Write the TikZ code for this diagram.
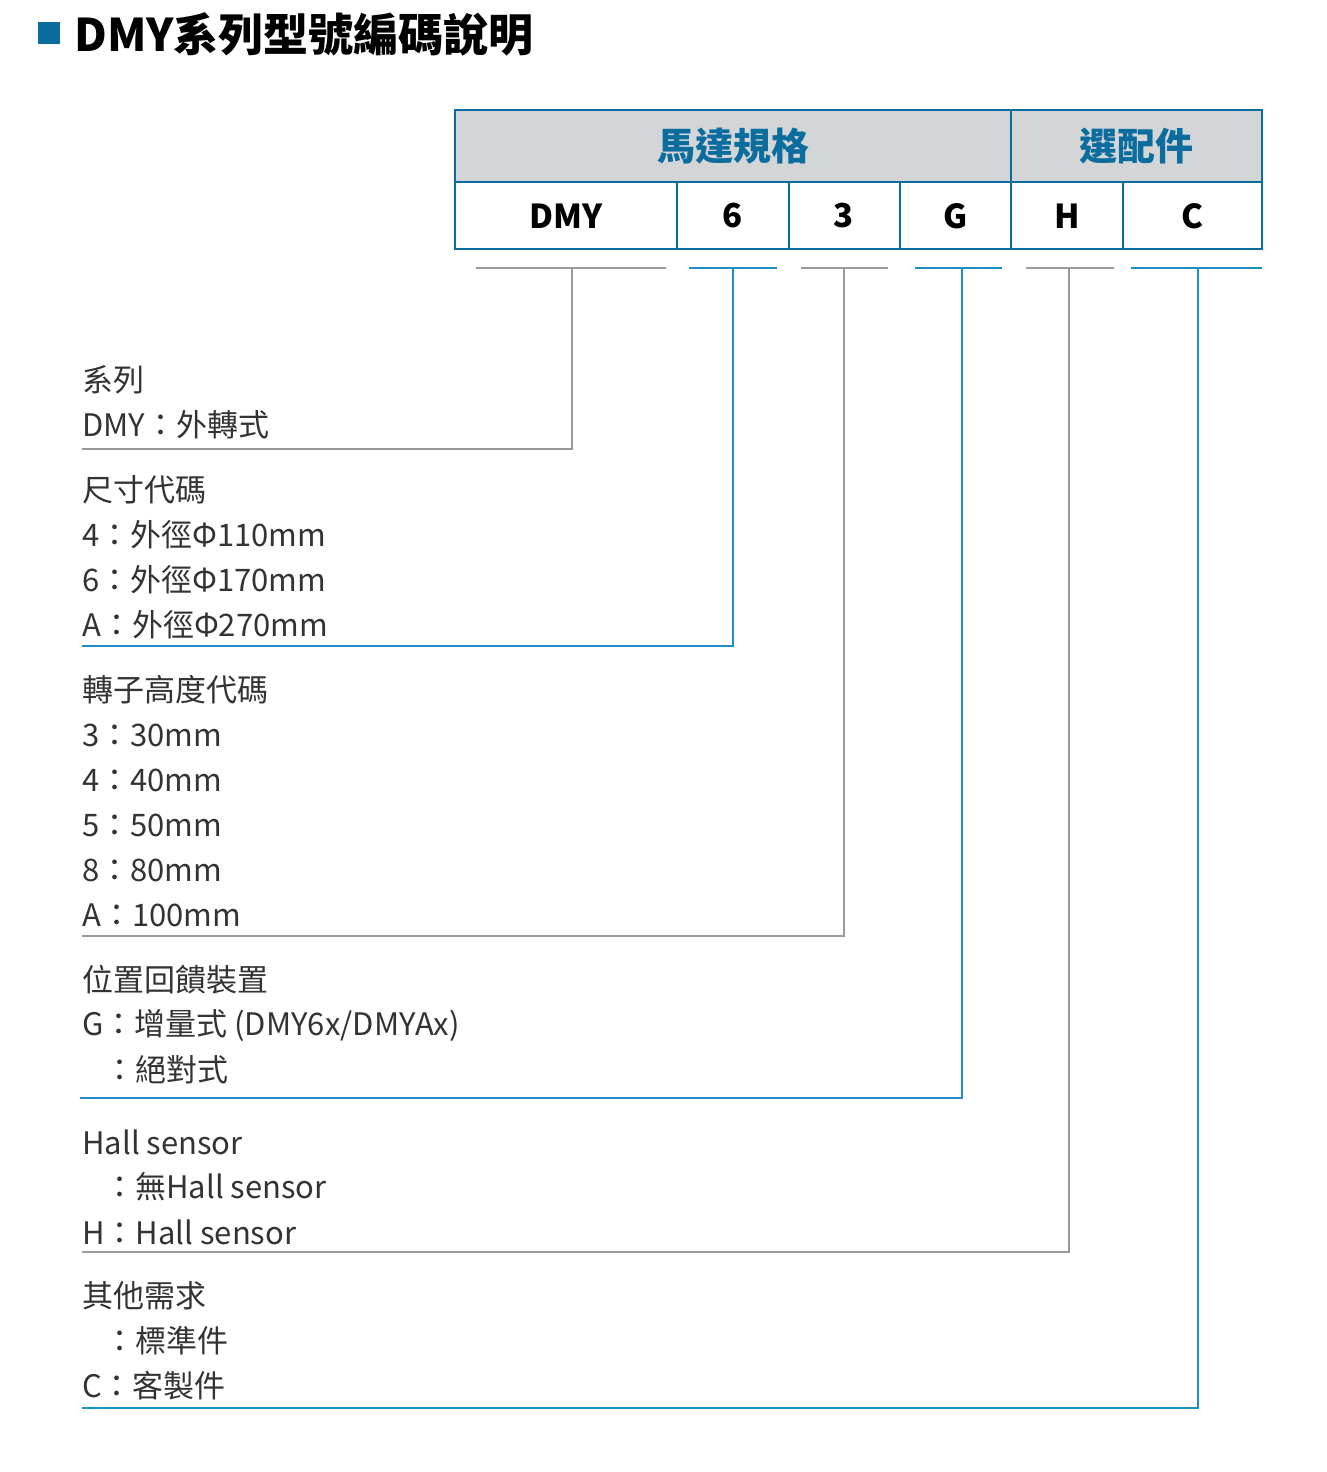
\documentclass[tikz,border=0pt]{standalone}
\usepackage{fontspec}
\setmainfont{Noto Sans CJK TC}
\begin{document}
\begin{tikzpicture}[x=1pt,y=-1pt]
\definecolor{bl}{HTML}{1E8FC4}
\definecolor{dbl}{HTML}{0A6D9E}
\definecolor{gr}{HTML}{9A9A9A}
\definecolor{hd}{HTML}{D3D5D7}
\definecolor{tx}{HTML}{333333}
\tikzset{lab/.style={anchor=west,inner sep=0pt,text=tx,font=\fontsize{31}{34}\selectfont},
 cell/.style={font=\fontsize{33}{36}\selectfont\bfseries,text=black},
 bline/.style={bl,line width=2pt}, gline/.style={gr,line width=2pt}}
\useasboundingbox (0,0) rectangle (1327,1472);
\fill[dbl] (38,22) rectangle (60,44);
\node[anchor=west,inner sep=0pt,font=\fontsize{45}{48}\selectfont\bfseries,text=black] (title) at (74,34) {DMY系列型號編碼說明};
% table
\fill[hd] (455,110) rectangle (1262,182);
\draw[dbl,line width=2.5pt] (455,110) rectangle (1262,249);
\draw[dbl,line width=1.5pt] (455,182) -- (1262,182) (1011,110) -- (1011,249);
\foreach \x in {677,789,900,1123} \draw[dbl,line width=1.5pt] (\x,182) -- (\x,249);
\node[font=\fontsize{38}{40}\selectfont\bfseries,text=dbl] (h1) at (733,146) {馬達規格};
\node[font=\fontsize{38}{40}\selectfont\bfseries,text=dbl] (h2) at (1136,146) {選配件};
\node[cell] (c1) at (566,216) {DMY};
\node[cell] (c2) at (733,216) {6};
\node[cell] (c3) at (844,216) {3};
\node[cell] (c4) at (956,216) {G};
\node[cell] (c5) at (1067,216) {H};
\node[cell] (c6) at (1192,216) {C};
% under-lines
\draw[gline] (476,268) -- (666,268);
\draw[bline] (689,268) -- (777,268);
\draw[gline] (801,268) -- (888,268);
\draw[bline] (915,268) -- (1002,268);
\draw[gline] (1026,268) -- (1114,268);
\draw[bline] (1131,268) -- (1262,268);
% leaders
\draw[gline] (572,268) -- (572,449) -- (82,449);
\draw[bline] (733,268) -- (733,646) -- (82,646);
\draw[gline] (844,268) -- (844,936) -- (82,936);
\draw[bline] (962,268) -- (962,1098) -- (80,1098);
\draw[gline] (1069,268) -- (1069,1252) -- (82,1252);
\draw[bline] (1198,268) -- (1198,1408) -- (82,1408);
% labels
\node[lab] (a1) at (82,380) {系列};
\node[lab] (a2) at (82,425) {DMY：外轉式};
\node[lab] (b1) at (82,490) {尺寸代碼};
\node[lab] (b2) at (82,535) {4：外徑Φ110mm};
\node[lab] (b3) at (82,580) {6：外徑Φ170mm};
\node[lab] (b4) at (82,625) {A：外徑Φ270mm};
\node[lab] (d1) at (82,690) {轉子高度代碼};
\node[lab] (d2) at (82,735) {3：30mm};
\node[lab] (d3) at (82,780) {4：40mm};
\node[lab] (d4) at (82,825) {5：50mm};
\node[lab] (d5) at (82,870) {8：80mm};
\node[lab] (d6) at (82,915) {A：100mm};
\node[lab] (e1) at (82,980) {位置回饋裝置};
\node[lab] (e2) at (82,1025) {G：增量式 (DMY6x/DMYAx)};
\node[lab] (e3) at (104,1070) {：絕對式};
\node[lab] (f1) at (82,1142) {Hall sensor};
\node[lab] (f2) at (104,1187) {：無Hall sensor};
\node[lab] (f3) at (82,1232) {H：Hall sensor};
\node[lab] (g1) at (82,1296) {其他需求};
\node[lab] (g2) at (104,1341) {：標準件};
\node[lab] (g3) at (82,1386) {C：客製件};
\end{tikzpicture}
\end{document}
